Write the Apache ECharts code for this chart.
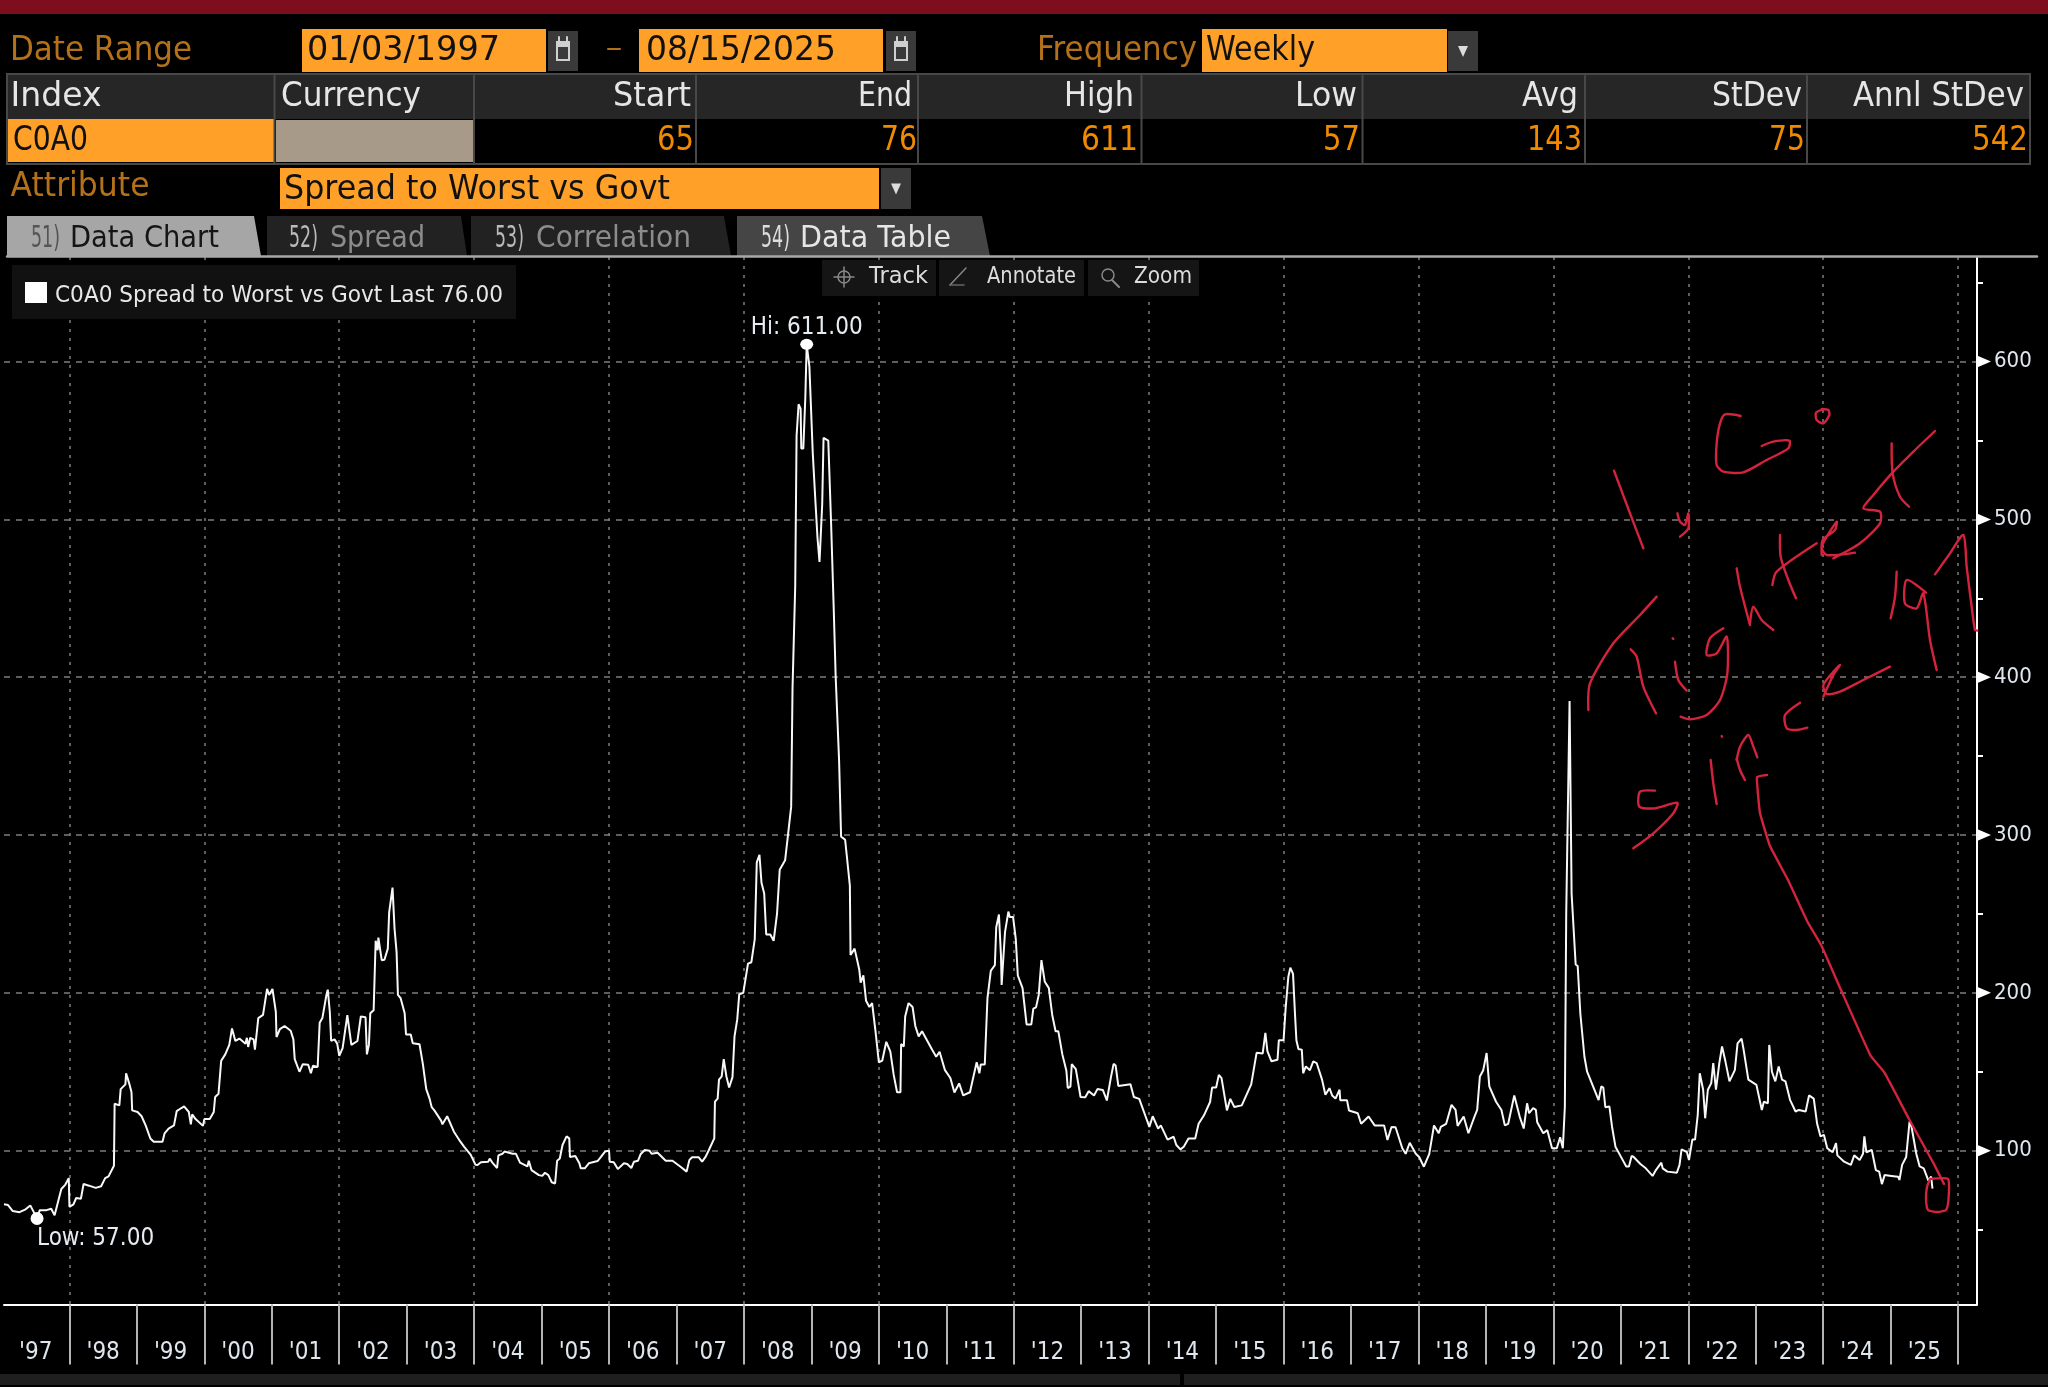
<!DOCTYPE html>
<html>
<head>
<meta charset="utf-8">
<style>html,body{margin:0;padding:0;background:#000}#c{width:2048px;height:1387px}</style>
<script src="https://cdn.jsdelivr.net/npm/echarts@6/dist/echarts.min.js"></script>
</head>
<body>
<div id="c"></div>
<script>
// ---- values: [decimal year, spread in bp] ----
const spreadPoints = [
[1997.03,66],[1997.09,65.5],[1997.16,61.7],[1997.26,61],[1997.35,62.8],[1997.42,65.3],[1997.46,62],[1997.52,57],[1997.56,62.3],[1997.66,62.3],[1997.73,63.2],[1997.78,59],[1997.84,69],[1997.88,75.7],[1997.94,78.5],[1997.99,82.6],
[1998.00,64.4],[1998.06,66],[1998.10,70],[1998.17,69.5],[1998.21,78.9],[1998.29,77.8],[1998.39,76.4],[1998.47,77.4],[1998.53,82.6],[1998.58,83.7],[1998.66,90.4],[1998.67,129.7],[1998.74,128.7],[1998.76,139],[1998.83,142],[1998.84,149],[1998.89,142],[1998.92,137],[1998.93,125.5],
[1999.01,124.5],[1999.07,121.8],[1999.13,116],[1999.20,107.7],[1999.25,105.6],[1999.38,105.6],[1999.41,110.9],[1999.47,114],[1999.55,116],[1999.59,125],[1999.66,127],[1999.70,128],[1999.77,124.5],[1999.80,116.7],[1999.82,123],[1999.87,120],[1999.98,115.7],
[2000.00,120],[2000.08,120],[2000.14,124.5],[2000.16,134],[2000.21,136],[2000.25,157],[2000.31,161],[2000.37,167],[2000.41,177.4],[2000.46,169.5],[2000.52,171],[2000.61,167.8],[2000.63,171.5],[2000.65,165.7],[2000.68,171.5],[2000.73,170.5],[2000.75,164],[2000.80,184],[2000.87,186],[2000.93,202.5],[2000.96,198.7],
[2001.01,202.5],[2001.06,188],[2001.07,172],[2001.12,177],[2001.19,179],[2001.28,176],[2001.32,170.5],[2001.34,158],[2001.41,150],[2001.46,154.8],[2001.54,154.4],[2001.58,149],[2001.61,153.8],[2001.68,153],[2001.71,181],[2001.75,184],[2001.81,198.7],[2001.83,202],[2001.86,188],[2001.88,169.5],[2001.93,170.5],[2001.97,167.8],
[2002.00,160],[2002.05,165],[2002.12,185.8],[2002.18,167],[2002.27,169.5],[2002.32,185],[2002.39,184.5],[2002.41,161],[2002.44,167],[2002.46,187],[2002.51,189],[2002.54,233],[2002.57,227],[2002.58,235],[2002.63,220.7],[2002.67,221],[2002.72,228],[2002.74,251],[2002.79,266.7],[2002.82,240.6],[2002.85,226],[2002.87,198.7],[2002.91,196.6],[2002.97,187],[2002.99,173.6],
[2003.06,173.6],[2003.09,168],[2003.19,167.4],[2003.24,154.8],[2003.29,139],[2003.34,132.8],[2003.37,127.6],[2003.41,125.5],[2003.51,119],[2003.53,116.7],[2003.60,121.8],[2003.70,112],[2003.78,106.7],[2003.85,102.5],[2003.95,97.3],
[2004.02,91],[2004.05,90.9],[2004.10,92.6],[2004.21,93],[2004.23,95],[2004.27,92.4],[2004.34,89],[2004.36,97],[2004.42,98],[2004.45,99.4],[2004.57,98],[2004.62,98],[2004.68,92.4],[2004.79,90],[2004.81,93.6],[2004.85,87.7],[2004.96,84.5],
[2005.01,84],[2005.05,86],[2005.10,84.5],[2005.15,80],[2005.20,79.2],[2005.23,93.6],[2005.27,95],[2005.31,103.6],[2005.37,109],[2005.41,107.8],[2005.42,96],[2005.50,96.6],[2005.56,92],[2005.58,88.8],[2005.64,88.8],[2005.70,92],[2005.83,93.4],[2005.88,96],[2005.94,99.4],
[2006.00,100],[2006.01,93],[2006.07,92.6],[2006.13,88.3],[2006.22,92],[2006.27,91.5],[2006.33,89],[2006.37,93],[2006.43,93.6],[2006.47,97.9],[2006.53,100.4],[2006.60,100],[2006.63,98],[2006.72,98.7],[2006.84,93.6],[2006.94,93.6],
[2007.06,89.8],[2007.15,86.7],[2007.19,94],[2007.23,95.8],[2007.33,95.8],[2007.38,93],[2007.43,96],[2007.48,100.4],[2007.56,107.8],[2007.57,131],[2007.61,133],[2007.63,145],[2007.67,147],[2007.70,158],[2007.74,147],[2007.78,140],[2007.83,146.6],[2007.86,172.4],[2007.90,183],[2007.93,199],[2007.99,200],
[2008.06,218.5],[2008.11,219.4],[2008.16,234],[2008.19,282.7],[2008.23,287.5],[2008.26,269.7],[2008.30,263],[2008.33,237],[2008.39,237],[2008.44,233],[2008.49,250],[2008.53,278],[2008.61,284],[2008.65,299],[2008.70,318],[2008.72,393],[2008.76,458],[2008.78,553],[2008.81,573],[2008.84,570],[2008.85,545],[2008.88,545],[2008.91,577.6],[2008.93,611],[2008.97,597],
[2009.02,542],[2009.06,511],[2009.09,488.5],[2009.12,473],[2009.16,509.6],[2009.18,551.7],[2009.25,550],[2009.29,500],[2009.33,444.7],[2009.36,400],[2009.38,399],[2009.41,347.5],[2009.44,299],[2009.50,297],[2009.57,268],[2009.58,224],[2009.64,228],[2009.71,214.6],[2009.73,206.5],[2009.77,211],[2009.81,195],[2009.86,191],[2009.90,193.5],[2009.95,175.7],
[2010.00,156],[2010.05,157],[2010.11,169],[2010.17,162.7],[2010.22,148],[2010.27,137],[2010.32,137],[2010.33,167.6],[2010.37,166],[2010.39,185],[2010.44,193.5],[2010.50,191],[2010.54,179],[2010.59,172.4],[2010.64,175.7],[2010.79,164],[2010.85,159.5],[2010.90,162.7],[2010.98,151],
[2011.06,146],[2011.12,136.8],[2011.19,142.6],[2011.25,135],[2011.35,137],[2011.40,146.5],[2011.45,156],[2011.49,149],[2011.51,154.6],[2011.57,154.6],[2011.61,196.7],[2011.66,214],[2011.72,217.6],[2011.74,241.6],[2011.78,249.6],[2011.81,223.8],[2011.82,205],[2011.84,204],[2011.87,238.5],[2011.92,251.5],[2011.94,248],[2011.99,248],
[2012.03,234],[2012.06,211],[2012.13,203],[2012.19,180],[2012.26,180],[2012.29,190],[2012.33,190.8],[2012.37,198.7],[2012.41,220.7],[2012.46,207],[2012.52,203],[2012.57,186],[2012.62,175.7],[2012.66,175.7],[2012.72,161],[2012.78,150.6],[2012.80,139.7],[2012.84,140.6],[2012.86,154.8],[2012.92,151.7],[2012.99,134],
[2013.06,133.9],[2013.11,137.7],[2013.19,135],[2013.24,139],[2013.32,138.5],[2013.38,131.8],[2013.44,146.4],[2013.48,155],[2013.51,154],[2013.55,141],[2013.73,142],[2013.78,134],[2013.86,132.8],[2013.96,121],
[2014.01,115],[2014.06,121.8],[2014.14,114],[2014.18,116],[2014.28,107],[2014.37,108.8],[2014.41,103.6],[2014.47,100.8],[2014.52,102.5],[2014.59,107.7],[2014.69,107.7],[2014.74,117],[2014.82,122.4],[2014.91,130.8],[2014.94,140],
[2015.00,140],[2015.04,148],[2015.08,146],[2015.16,125.5],[2015.21,132.8],[2015.27,127.6],[2015.38,128.7],[2015.52,142],[2015.60,162],[2015.69,161.5],[2015.73,174.7],[2015.76,163],[2015.82,156.6],[2015.91,157.6],[2015.93,170],
[2016.00,170],[2016.03,190],[2016.07,210],[2016.10,216],[2016.14,212],[2016.17,186],[2016.19,170],[2016.22,164.4],[2016.27,164],[2016.29,149],[2016.33,153.4],[2016.39,151],[2016.44,156.6],[2016.49,155.5],[2016.57,145],[2016.62,135.4],[2016.68,139.6],[2016.72,135],[2016.77,133],[2016.83,138.6],[2016.84,132],[2016.94,132],[2016.97,125.4],
[2017.10,123.7],[2017.15,117],[2017.26,121.6],[2017.35,116],[2017.49,116],[2017.54,106.8],[2017.60,115],[2017.66,114.8],[2017.76,101.5],[2017.81,98],[2017.87,105],[2017.96,98],
[2018.01,96],[2018.08,89.8],[2018.16,98],[2018.23,116],[2018.30,111],[2018.33,115],[2018.41,117],[2018.49,129],[2018.55,125.8],[2018.58,115.7],[2018.67,121.6],[2018.74,111],[2018.83,121.6],[2018.87,125.8],[2018.91,147],[2018.96,151],
[2019.01,161.9],[2019.05,140.7],[2019.15,131],[2019.23,125.8],[2019.28,116],[2019.33,117],[2019.42,135],[2019.50,121.6],[2019.56,114],[2019.61,130],[2019.64,123.7],[2019.70,127],[2019.74,125.8],[2019.76,118],[2019.85,111],[2019.91,113],[2019.98,101.5],
[2020.05,101.5],[2020.10,108.5],[2020.14,101.5],[2020.17,128],[2020.19,250],[2020.24,385],[2020.27,262.8],[2020.33,218],[2020.36,217],[2020.40,186.6],[2020.46,159.5],[2020.50,150],[2020.67,132],[2020.71,140.7],[2020.74,140],[2020.77,127.5],[2020.83,128],[2020.87,115],[2020.92,102.5],[2020.99,97],
[2021.08,90],[2021.12,90],[2021.16,96.6],[2021.19,96],[2021.29,91.5],[2021.37,88.8],[2021.47,84],[2021.52,87.7],[2021.60,92.4],[2021.62,88.8],[2021.69,86.7],[2021.83,86],[2021.87,91],[2021.90,100.8],[2021.98,99],
[2022.01,94],[2022.06,107],[2022.10,107],[2022.14,122.7],[2022.17,149],[2022.22,138.6],[2022.25,120.5],[2022.29,138.6],[2022.34,142.8],[2022.37,155.5],[2022.41,138.6],[2022.46,155.5],[2022.50,166],[2022.55,156.6],[2022.61,143.9],[2022.69,151],[2022.73,168],[2022.79,171],[2022.82,164],[2022.89,145],
[2023.01,141.7],[2023.09,125.8],[2023.12,131],[2023.18,130],[2023.20,167],[2023.24,150],[2023.29,143.9],[2023.34,153.4],[2023.39,145],[2023.44,143.9],[2023.51,132],[2023.59,124.8],[2023.64,125.8],[2023.74,124.8],[2023.79,135],[2023.86,133],[2023.91,117],[2023.96,109],
[2024.01,110],[2024.06,101.5],[2024.14,99],[2024.19,104.7],[2024.21,97],[2024.31,93],[2024.41,91],[2024.46,97],[2024.54,94],[2024.59,98],[2024.61,109],[2024.64,99],[2024.72,100.4],[2024.78,87.7],[2024.83,86.7],[2024.87,78.8],[2024.91,84.5],
[2025.01,84],[2025.11,83.5],[2025.13,81.4],[2025.17,91],[2025.23,96],[2025.28,118.4],[2025.31,115],[2025.38,98],[2025.43,90],[2025.49,88.8],[2025.56,81],[2025.60,83.5],[2025.62,76]
];
const hiPoint = [2008.93, 611];
const lowPoint = [1997.52, 57];
const yLabelled = [100, 200, 300, 400, 500, 600];
const yMinor = [50, 150, 250, 350, 450, 550, 650];
const yearTicks = [1998,1999,2000,2001,2002,2003,2004,2005,2006,2007,2008,2009,2010,2011,2012,2013,2014,2015,2016,2017,2018,2019,2020,2021,2022,2023,2024,2025,2026];
const gridYears = [1998,2000,2002,2004,2006,2008,2010,2012,2014,2016,2018,2020,2022,2024,2026];
const yearLabels = [1997,1998,1999,2000,2001,2002,2003,2004,2005,2006,2007,2008,2009,2010,2011,2012,2013,2014,2015,2016,2017,2018,2019,2020,2021,2022,2023,2024,2025];
const statHeaders = ['Start','End','High','Low','Avg','StDev','Annl StDev'];
const statValues = ['65','76','611','57','143','75','542'];
const indexName = 'C0A0';
const dateFrom = '01/03/1997', dateTo = '08/15/2025', frequency = 'Weekly', attribute = 'Spread to Worst vs Govt';
const legendText = 'C0A0 Spread to Worst vs Govt Last 76.00';

// ---- page chrome ----
const AMBER='#ffa028', DIM='#b5711a', VAL='#f28a00', FONT='"DejaVu Sans"';
const ctx=document.createElement('canvas').getContext('2d');
const els=[];
function T(s,x,cy,size,color,w){
  ctx.font=size+'px '+FONT;
  const m=ctx.measureText(s).width;
  els.push({type:'text',x:x,y:cy+3,scaleX:w?w/m:1,z:13,silent:true,
    style:{text:s,x:0,y:0,fill:color,fontSize:size,fontFamily:'DejaVu Sans',align:'left',verticalAlign:'middle'}});
}
function R(x,y,w,h,fill,stroke,z){
  els.push({type:'rect',z:z||11,silent:true,shape:{x:x,y:y,width:w,height:h},style:{fill:fill||'transparent',stroke:stroke||null,lineWidth:stroke?2:0}});
}
function P(pts,fill,z){els.push({type:'polygon',z:z||11,silent:true,shape:{points:pts},style:{fill:fill}});}
function L(pts,color,lw,smooth,z){els.push({type:'polyline',z:z||12,silent:true,shape:{points:pts,smooth:smooth||0},style:{stroke:color,lineWidth:lw,fill:null,lineCap:'round',lineJoin:'round'}});}

R(0,0,2048,14,'#7e0d1e');
// date row
T('Date Range',10,48,34,DIM,182);
R(302,29,244,43,AMBER); T(dateFrom,307,48,34,'#111',193);
function cal(x){R(x,31,30,40,'#3a3a3a');R(x+8,41,14,20,'#cfcfcf');R(x+10,47,10,12,'#3a3a3a');L([[x+11,37],[x+11,43]],'#cfcfcf',2);L([[x+19,37],[x+19,43]],'#cfcfcf',2);}
cal(548);
L([[608,49],[620,49]],DIM,2);
R(639,29,244,43,AMBER); T(dateTo,646,48,34,'#111',190);
cal(886);
T('Frequency',1037,48,34,DIM,160);
R(1202,29,245,43,AMBER); T(frequency,1206,48,34,'#111',109);
function drop(x,y,h){R(x,y,30,h,'#3a3a3a');P([[x+10,y+h/2-5],[x+20,y+h/2-5],[x+15,y+h/2+6]],'#dcdcdc');}
drop(1448,31,40);
// stats table
R(7,74,2023,45,'#262626');
const colX=[274.5,474,696,918,1141.5,1362.5,1585,1807];
const statRight=[691,912,1134,1357,1578,1802,2024], statW=[78,54,70,62,56,90,171];
const valRight=[694,917,1138,1360,1582,1805,2028], valW=[37,36,57,37,55,36,56];
T('Index',10.5,94,34,'#e6e6e6',91);
T('Currency',281,94,34,'#e6e6e6',140);
statHeaders.forEach((s,i)=>T(s,statRight[i]-statW[i],94,34,'#e6e6e6',statW[i]));
R(7,119,267,43,AMBER);
R(276,120,197,42,'#a89a88');
T(indexName,13,138,34,'#111',75);
statValues.forEach((s,i)=>T(s,valRight[i]-valW[i],138,34,VAL,valW[i]));
colX.forEach(x=>L([[x,76],[x,163]],'#484848',2));
R(7,74,2023,90,null,'#484848',12);
// attribute
T('Attribute',10.5,184,34,DIM,139);
R(280,168,599,41,AMBER); T(attribute,284,187,34,'#111',386);
drop(881,168,41);
// tabs
P([[7,256],[7,216],[254,216],[261,256]],'#a6a6a6');
P([[267,256],[267,216],[461,216],[467,256]],'#222222');
P([[471,256],[471,216],[724,216],[731,256]],'#222222');
P([[737,256],[737,216],[982,216],[990,256]],'#454545');
T('51)',31,236,30,'#555',29); T('Data Chart',70,236,30,'#151515',149);
T('52)',289,236,30,'#bbb',29); T('Spread',330,236,30,'#8c8c8c',95);
T('53)',495,236,30,'#bbb',29); T('Correlation',536,236,30,'#8c8c8c',155);
T('54)',761,236,30,'#ddd',29); T('Data Table',800,236,30,'#e6e6e6',151);
L([[7,256.5],[2037,256.5]],'#a8a8a8',2.5,0,12);
// legend
R(12,265,504,54,'#111111');
R(25,282,22,21,'#ffffff',null,12);
T(legendText,55,293,23,'#e8e8e8',448);
// toolbar
R(822,260,114,36,'#151515');R(939,260,145,36,'#151515');R(1088,260,111,36,'#151515');
T('Track',869,274,23,'#dcdcdc',59);
T('Annotate',987,274,23,'#dcdcdc',89);
T('Zoom',1134,274,23,'#dcdcdc',58);
els.push({type:'circle',z:12,silent:true,shape:{cx:844,cy:277,r:6},style:{fill:null,stroke:'#888',lineWidth:1.5}});
L([[844,267],[844,287]],'#888',1.5);L([[834,277],[854,277]],'#888',1.5);
L([[950,285],[966,268]],'#888',1.5);L([[950,285],[964,285]],'#666',1.5);
els.push({type:'circle',z:12,silent:true,shape:{cx:1108,cy:275,r:6},style:{fill:null,stroke:'#888',lineWidth:1.5}});
L([[1112,280],[1119,287]],'#888',2);
// bottom bar
R(0,1374,1180,11,'#1f1f1f');R(1184,1374,864,11,'#1f1f1f');

// handwritten ink, traced as strokes (crop coordinates of the annotation area)
const INK='#d4233c';
const inkStrokes=[
[[222,272],[240,320],[270,400],[310,505]],
[[412,400],[420,425],[435,435],[445,400],[445,445],[420,470]],
[[602,108],[555,103],[540,130],[530,190],[530,255],[550,275],[610,277],[680,240],[745,205],[748,182],[700,185],[665,198]],
[[850,88],[828,98],[830,120],[850,130],[868,105],[865,90],[845,87]],
[[1185,153],[1120,215],[1060,275],[1000,345],[970,385],[1020,395],[1020,430],[960,490],[880,535]],
[[1055,190],[1058,280],[1080,350],[1107,380]],
[[697,615],[710,575],[830,490]],
[[945,518],[860,525],[845,500],[890,425],[885,450],[848,480],[845,525]],
[[720,465],[722,530],[745,600],[768,655]],
[[590,565],[600,620],[630,735]],
[[630,730],[640,680],[665,720],[700,750]],
[[550,745],[510,775],[500,825],[530,820],[560,770],[562,880],[540,960],[500,1005],[450,1018],[422,1010]],
[[405,845],[415,900],[440,932]],
[[398,775],[400,777]],
[[350,650],[300,705],[220,790],[150,910],[145,990]],
[[272,808],[290,830],[310,920],[348,1000]],
[[345,1232],[300,1235],[298,1280],[345,1285],[412,1268],[400,1300],[340,1360],[280,1405]],
[[512,1140],[520,1210],[530,1272]],
[[545,1068],[546,1070]],
[[590,1135],[600,1170],[615,1200]],
[[590,1140],[600,1100],[625,1065],[640,1100],[652,1132]],
[[780,968],[735,1005],[740,1045],[770,1050],[802,1043]],
[[1050,860],[970,900],[900,935],[860,942],[850,915],[880,875],[900,855],[880,885],[850,950]],
[[1070,575],[1065,650],[1052,715]],
[[1158,638],[1100,600],[1095,670],[1130,685],[1150,640],[1170,780],[1190,870]],
[[1185,583],[1230,520],[1270,465],[1280,560],[1295,680],[1305,750],[1312,752]]
];
inkStrokes.forEach(s=>L(s.map(p=>[1540+p[0]/3,380+p[1]/3]),INK,2.4,0.25,20));
L([[1767,775],[1757,777],[1760,813],[1770,846],[1788,880],[1807.6,922],[1821.6,946],[1841,990],[1870.5,1055.5],[1884.5,1072.6],[1909,1119],[1933.4,1163],[1944,1184]],INK,2.4,0.1,20);
L([[1930,1179],[1948,1179],[1948.5,1199],[1946,1210],[1937,1212],[1928,1210],[1926,1199],[1927,1187],[1930,1179]],INK,2.4,0.2,20);

// ---- chart ----
const XMIN=1997.03, XMAX=2026.28, YMIN=2.5, YMAX=666.3;
const chart=echarts.init(document.getElementById('c'),null,{renderer:'canvas',width:2048,height:1387});
const LABEL_FONT='DejaVu Sans Condensed';
chart.setOption({
  animation:false,
  backgroundColor:'#000',
  grid:{left:4,top:257,width:1973,height:1047.5,containLabel:false},
  xAxis:[
    {type:'value',min:XMIN,max:XMAX,position:'bottom',
      axisLine:{show:true,onZero:false,lineStyle:{color:'#fff',width:2}},
      axisTick:{show:true,customValues:yearTicks,length:60,lineStyle:{color:'#b4b4b4',width:2}},
      axisLabel:{show:false},splitLine:{show:false}},
    {type:'value',min:XMIN-0.5,max:XMAX-0.5,position:'bottom',
      axisLine:{show:false,onZero:false},axisTick:{show:false},splitLine:{show:false},
      axisLabel:{show:true,customValues:yearLabels,margin:36,color:'#dfe6ee',fontFamily:LABEL_FONT,fontSize:24,hideOverlap:false,
        formatter:v=>"'"+String(Math.round(v)).slice(2)}},
    {type:'value',min:XMIN,max:XMAX,position:'bottom',
      axisLine:{show:false,onZero:false},axisLabel:{show:false},
      axisTick:{show:false,customValues:gridYears},
      splitLine:{show:true,lineStyle:{color:'#7d7d7d',type:[3,6],width:1.5}}}
  ],
  yAxis:[
    {type:'value',min:YMIN,max:YMAX,position:'right',
      axisLine:{show:true,onZero:false,lineStyle:{color:'#fff',width:2}},
      axisTick:{show:false,customValues:yLabelled},
      axisLabel:{show:true,customValues:yLabelled,margin:17,color:'#dfe6ee',fontFamily:LABEL_FONT,fontSize:22},
      splitLine:{show:true,lineStyle:{color:'#7d7d7d',type:[6,6],width:1.5}}},
    {type:'value',min:YMIN,max:YMAX,position:'right',
      axisLine:{show:false,onZero:false},
      axisTick:{show:true,customValues:yMinor,length:6,lineStyle:{color:'#fff',width:2}},
      axisLabel:{show:false},splitLine:{show:false}}
  ],
  series:[
    {type:'line',xAxisIndex:0,yAxisIndex:0,data:spreadPoints,showSymbol:false,symbol:'none',
      lineStyle:{color:'#f8f8f8',width:2},sampling:'none',silent:true,z:5},
    {type:'scatter',xAxisIndex:0,yAxisIndex:0,data:[hiPoint],symbol:'circle',symbolSize:[13,11],itemStyle:{color:'#fff',opacity:1},silent:true,z:6,clip:false,
      label:{show:true,position:'top',distance:-1,formatter:p=>'Hi: '+p.value[1].toFixed(2),color:'#e6ecf2',fontFamily:LABEL_FONT,fontSize:24}},
    {type:'scatter',xAxisIndex:0,yAxisIndex:0,data:[lowPoint],symbol:'circle',symbolSize:13,itemStyle:{color:'#fff',opacity:1},silent:true,z:6,clip:false,
      label:{show:true,position:'bottom',align:'left',offset:[0,-2],distance:4,formatter:p=>'Low: '+p.value[1].toFixed(2),color:'#e6ecf2',fontFamily:LABEL_FONT,fontSize:24}},
    {type:'scatter',xAxisIndex:0,yAxisIndex:0,data:yLabelled.map(v=>[XMAX,v]),symbol:'triangle',symbolRotate:-90,symbolSize:[12,14],symbolOffset:[7,0],
      itemStyle:{color:'#fff',opacity:1},silent:true,z:6,clip:false}
  ],
  graphic:{elements:els}
});
</script>
</body>
</html>
